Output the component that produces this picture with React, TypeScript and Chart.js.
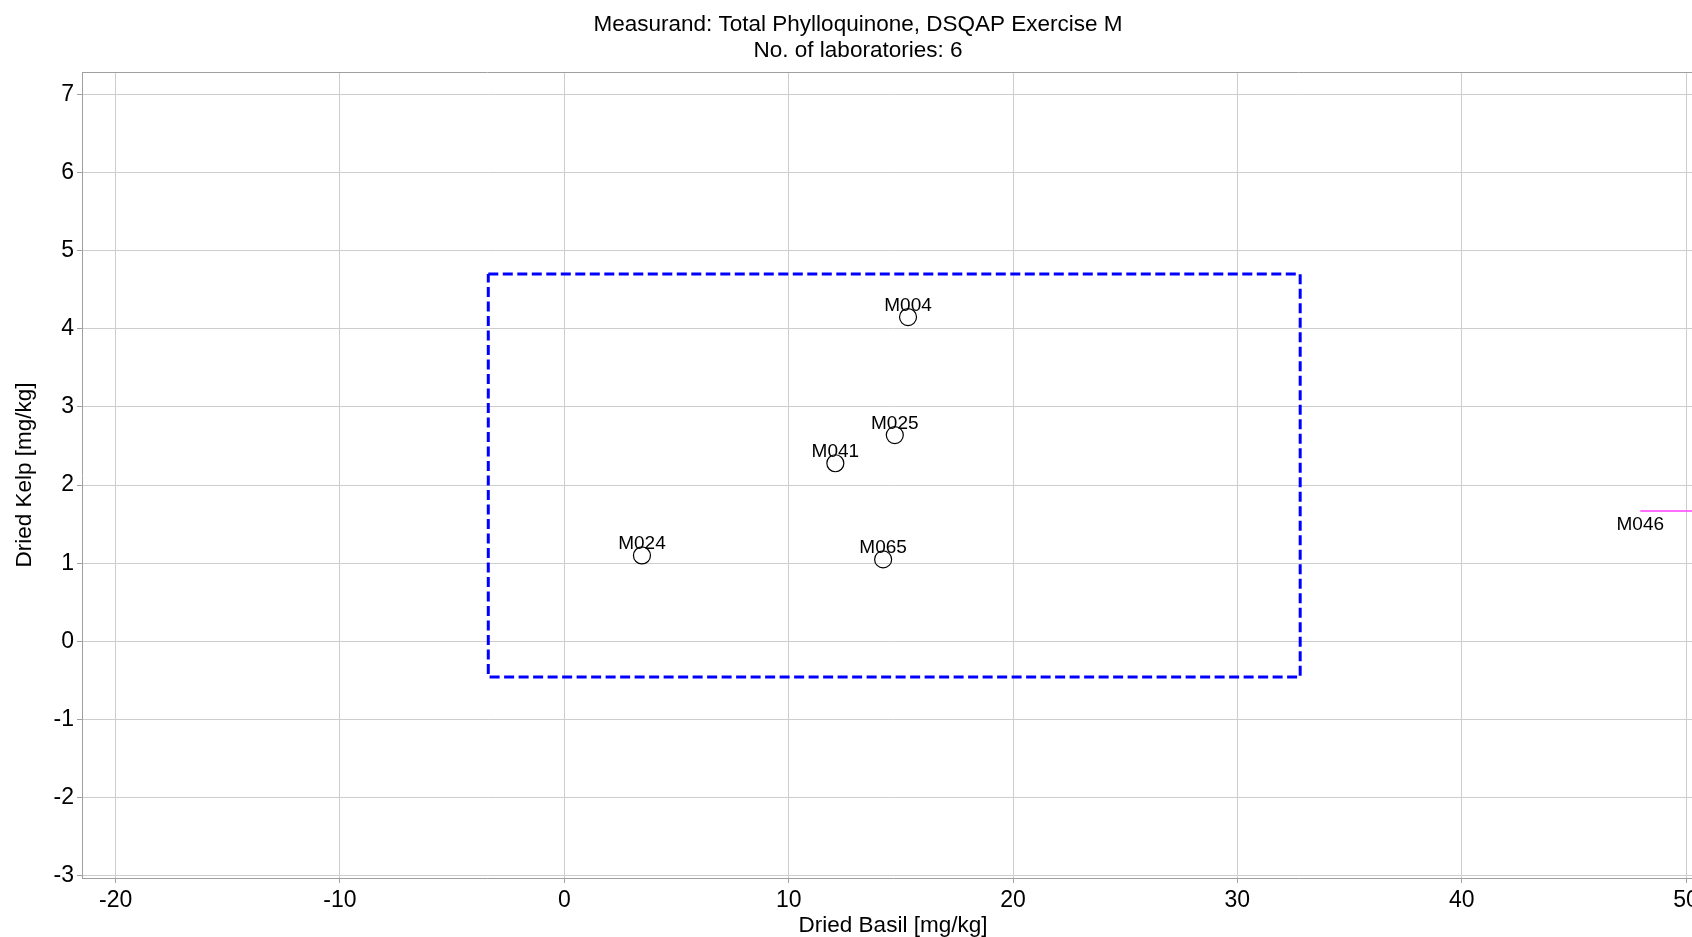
import React, { useEffect, useRef } from "react";
import { Chart, registerables } from "chart.js";

Chart.register(...registerables);

// ---- data ----
const titleLines = ["Measurand: Total Phylloquinone, DSQAP Exercise M", "No. of laboratories: 6"];
const xAxisTitle = "Dried Basil [mg/kg]";
const yAxisTitle = "Dried Kelp [mg/kg]";

const labNames = ["M004", "M025", "M041", "M024", "M065"];
const basilValues = [15.32, 14.73, 12.08, 3.46, 14.21];
const kelpValues = [4.15, 2.64, 2.28, 1.1, 1.05];

// consensus box (x range, y range)
const boxBasil = [-3.39, 32.8];
const boxKelp = [-0.456, 4.7];

// lab off to the right
const outlierName = "M046";
const outlierBasil = [47.96, 58];
const outlierKelp = 1.67;

const xTickValues = [-20, -10, 0, 10, 20, 30, 40, 50];
const yTickValues = [-3, -2, -1, 0, 1, 2, 3, 4, 5, 6, 7];
const xRange = [-21.5, 50.8];
const yRange = [-3.026, 7.285];

const FONT = '"Liberation Sans", Arial, sans-serif';
const GRID = "rgb(205,205,205)";
const BORDER = "rgb(160,160,160)";

export default function App() {
  const ref = useRef<HTMLCanvasElement | null>(null);

  useEffect(() => {
    const canvas = ref.current;
    if (!canvas) return;

    const overlay = {
      id: "overlay",
      afterDatasetsDraw(chart: any) {
        const { ctx, chartArea } = chart;
        const x = chart.scales.x;
        const y = chart.scales.y;
        ctx.save();
        // top & right border
        ctx.strokeStyle = BORDER;
        ctx.lineWidth = 1;
        ctx.beginPath();
        ctx.moveTo(chartArea.left, Math.round(chartArea.top) + 0.5);
        ctx.lineTo(chartArea.right, Math.round(chartArea.top) + 0.5);
        ctx.lineTo(chartArea.right, chartArea.bottom);
        ctx.stroke();
        // point labels
        ctx.fillStyle = "#000";
        ctx.font = `19px ${FONT}`;
        ctx.textAlign = "center";
        ctx.textBaseline = "alphabetic";
        labNames.forEach((n, i) => {
          ctx.fillText(n, x.getPixelForValue(basilValues[i]), y.getPixelForValue(kelpValues[i]) - 6.5);
        });
        ctx.fillText(outlierName, x.getPixelForValue(outlierBasil[0]), y.getPixelForValue(outlierKelp) + 19.5);
        ctx.restore();
      },
      afterDraw(chart: any) {
        const { ctx } = chart;
        ctx.save();
        ctx.fillStyle = "#000";
        ctx.font = `22.5px ${FONT}`;
        ctx.textAlign = "center";
        ctx.textBaseline = "middle";
        titleLines.forEach((t, i) => ctx.fillText(t, 858, 25 + i * 26));
        ctx.restore();
      },
    };

    const chart = new Chart(canvas, {
      type: "scatter",
      data: {
        datasets: [
          {
            label: "labs",
            data: labNames.map((_, i) => ({ x: basilValues[i], y: kelpValues[i] })),
            pointStyle: "circle",
            pointRadius: 8.5,
            pointBorderWidth: 1.2,
            borderColor: "#000",
            backgroundColor: "rgba(255,255,255,0)",
            showLine: false,
          },
          {
            label: "box",
            data: [
              { x: boxBasil[0], y: boxKelp[1] },
              { x: boxBasil[1], y: boxKelp[1] },
              { x: boxBasil[1], y: boxKelp[0] },
              { x: boxBasil[0], y: boxKelp[0] },
              { x: boxBasil[0], y: boxKelp[1] },
            ],
            showLine: true,
            borderColor: "#0000ff",
            borderWidth: 3,
            borderDash: [10, 4.5],
            pointRadius: 0,
            tension: 0,
            fill: false,
          },
          {
            label: "outlier",
            data: outlierBasil.map((v) => ({ x: v, y: outlierKelp })),
            showLine: true,
            borderColor: "rgb(255,60,255)",
            borderWidth: 1.5,
            pointRadius: 0,
            fill: false,
          },
        ],
      },
      options: {
        animation: false,
        responsive: false,
        devicePixelRatio: 1,
        layout: { padding: { left: 0, right: 10, top: 72, bottom: 0 } },
        plugins: {
          legend: { display: false },
          title: { display: false },
          tooltip: { enabled: false },
        },
        scales: {
          x: {
            type: "linear",
            min: xRange[0],
            max: xRange[1],
            afterBuildTicks: (s: any) => {
              s.ticks = xTickValues.map((v) => ({ value: v }));
            },
            afterFit: (s: any) => {
              s.height = 59;
            },
            ticks: {
              color: "#000",
              font: { family: FONT, size: 23 },
              padding: 3.5,
              maxRotation: 0,
              autoSkip: false,
            },
            grid: { color: GRID, tickColor: BORDER, tickLength: 5, lineWidth: 1 },
            border: { color: BORDER, width: 1 },
            title: {
              display: true,
              text: xAxisTitle,
              color: "#000",
              font: { family: FONT, size: 22.5 },
              padding: { top: 0, bottom: -2 },
            },
          },
          y: {
            type: "linear",
            min: yRange[0],
            max: yRange[1],
            afterBuildTicks: (s: any) => {
              s.ticks = yTickValues.map((v) => ({ value: v }));
            },
            afterFit: (s: any) => {
              s.width = 82;
            },
            ticks: {
              color: "#000",
              font: { family: FONT, size: 23 },
              padding: 3,
              autoSkip: false,
            },
            grid: { color: GRID, tickColor: BORDER, tickLength: 5, lineWidth: 1 },
            border: { color: BORDER, width: 1 },
            title: {
              display: true,
              text: yAxisTitle,
              color: "#000",
              font: { family: FONT, size: 22.5 },
              padding: { top: 11, bottom: 0 },
            },
          },
        },
      },
      plugins: [overlay],
    } as any);

    return () => chart.destroy();
  }, []);

  return (
    <div
      style={{
        position: "fixed",
        left: 0,
        top: 0,
        width: 1692,
        height: 937,
        overflow: "hidden",
        background: "#fff",
      }}
    >
      <canvas ref={ref} width={1714} height={937} style={{ display: "block" }} />
    </div>
  );
}
